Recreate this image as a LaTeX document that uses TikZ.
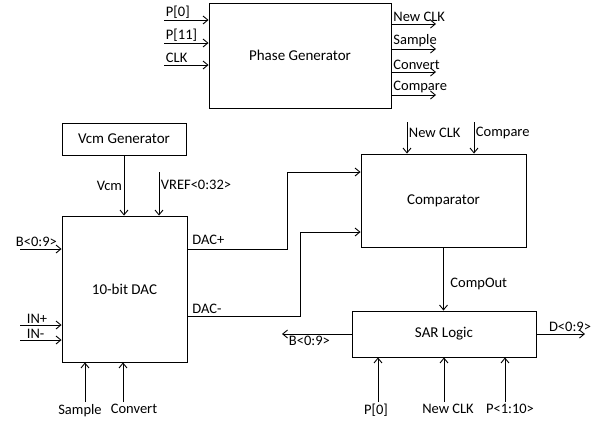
\documentclass[tikz,border=0pt]{standalone}
\usepackage{fontspec}
\setmainfont{Carlito}
\usetikzlibrary{arrows.meta}

\begin{document}
\begin{tikzpicture}[
  x=1pt, y=-1pt,
  block/.style={rectangle, draw, line width=0.9pt, inner sep=0pt, font=\fontsize{15}{17}\selectfont},
  lbl/.style={font=\fontsize{14.5}{16}\selectfont, inner sep=1.5pt},
  arr/.style={-{Straight Barb[length=1.7mm, width=2.8mm]}, line width=0.9pt},
]
\useasboundingbox (0,0) rectangle (608,426);

% blocks
\node[block, minimum width=182pt, minimum height=105pt] (pg) at (300,55.5) {Phase Generator};
\node[block, minimum width=124pt, minimum height=32pt] (vcm) at (124,139) {Vcm Generator};
\node[block, minimum width=125pt, minimum height=146pt] (dac) at (124.5,289) {10-bit DAC};
\node[block, minimum width=165pt, minimum height=93pt] (comp) at (443.5,200.5) {Comparator};
\node[block, minimum width=184pt, minimum height=46pt] (sar) at (444,334) {SAR Logic};

% free ends
\coordinate (pzero) at (164,20);
\coordinate (peleven) at (164,43);
\coordinate (clk) at (164,65);
\coordinate (onclk) at (436,24);
\coordinate (osample) at (436,49);
\coordinate (oconvert) at (436,72);
\coordinate (ocompare) at (436,95);
\coordinate (vref) at (159,172);
\coordinate (bin) at (20,249);
\coordinate (inp) at (20,325);
\coordinate (inn) at (20,340);
\coordinate (sample) at (85,402);
\coordinate (convert) at (123,402);
\coordinate (cnclk) at (407,122);
\coordinate (ccompare) at (474,122);
\coordinate (bout) at (282,334);
\coordinate (dout) at (585,334);
\coordinate (spzero) at (378,402);
\coordinate (snclk) at (444,402);
\coordinate (sprest) at (505,402);

% phase generator
\draw[arr] (pzero) node[lbl, above right]{P[0]} -- (pzero -| pg.west);
\draw[arr] (peleven) node[lbl, above right]{P[11]} -- (peleven -| pg.west);
\draw[arr] (clk) node[lbl, above right]{CLK} -- (clk -| pg.west);
\draw[arr] (onclk -| pg.east) node[lbl, above right]{New CLK} -- (onclk);
\draw[arr] (osample -| pg.east) node[lbl, above right]{Sample} -- (osample);
\draw[arr] (oconvert -| pg.east) node[lbl, above right]{Convert} -- (oconvert);
\draw[arr] (ocompare -| pg.east) node[lbl, above right]{Compare} -- (ocompare);

% DAC
\draw[arr] (vcm.south) -- node[lbl, left, pos=0.5]{Vcm} (vcm.south |- dac.north);
\draw[arr] (vref) -- node[lbl, right, pos=0.3]{VREF<0:32>} (vref |- dac.north);
\draw[arr] (bin) node[lbl, above right, xshift=-6pt]{B<0:9>} -- (bin -| dac.west);
\draw[arr] (inp) node[lbl, above right, xshift=5pt]{IN+} -- (inp -| dac.west);
\draw[arr] (inn) node[lbl, above right, xshift=5pt]{IN-} -- (inn -| dac.west);
\draw[arr] (sample) node[lbl, below, xshift=-5pt]{Sample} -- (sample |- dac.south);
\draw[arr] (convert) node[lbl, below, xshift=11pt]{Convert} -- (convert |- dac.south);
\draw[arr] (bin -| dac.east) node[lbl, above right, xshift=3pt, yshift=2pt]{DAC+} -- ++(100,0) |- ([yshift=28.5pt]comp.west);
\draw[arr] ([yshift=-27pt]dac.east) node[lbl, above right, xshift=3pt]{DAC-} -- ++(113,0) |- ([yshift=-31.5pt]comp.west);

% comparator
\draw[arr] (cnclk) -- node[lbl, right, pos=0.35]{New CLK} (cnclk |- comp.north);
\draw[arr] (ccompare) -- node[lbl, right, pos=0.35]{Compare} (ccompare |- comp.north);
\draw[arr] (comp.south) -- node[lbl, right, pos=0.58, xshift=5pt]{CompOut} (comp.south |- sar.north);

% SAR logic
\draw[arr] (sar.west) -- (bout) node[lbl, below right, xshift=5pt]{B<0:9>};
\draw[arr] (sar.east) -- (dout) node[lbl, above, xshift=-15pt]{D<0:9>};
\draw[arr] (spzero) node[lbl, below, xshift=-2pt]{P[0]} -- (spzero |- sar.south);
\draw[arr] (snclk) node[lbl, below, xshift=4pt]{New CLK} -- (snclk |- sar.south);
\draw[arr] (sprest) node[lbl, below, xshift=5pt]{P<1:10>} -- (sprest |- sar.south);
\end{tikzpicture}
\end{document}
